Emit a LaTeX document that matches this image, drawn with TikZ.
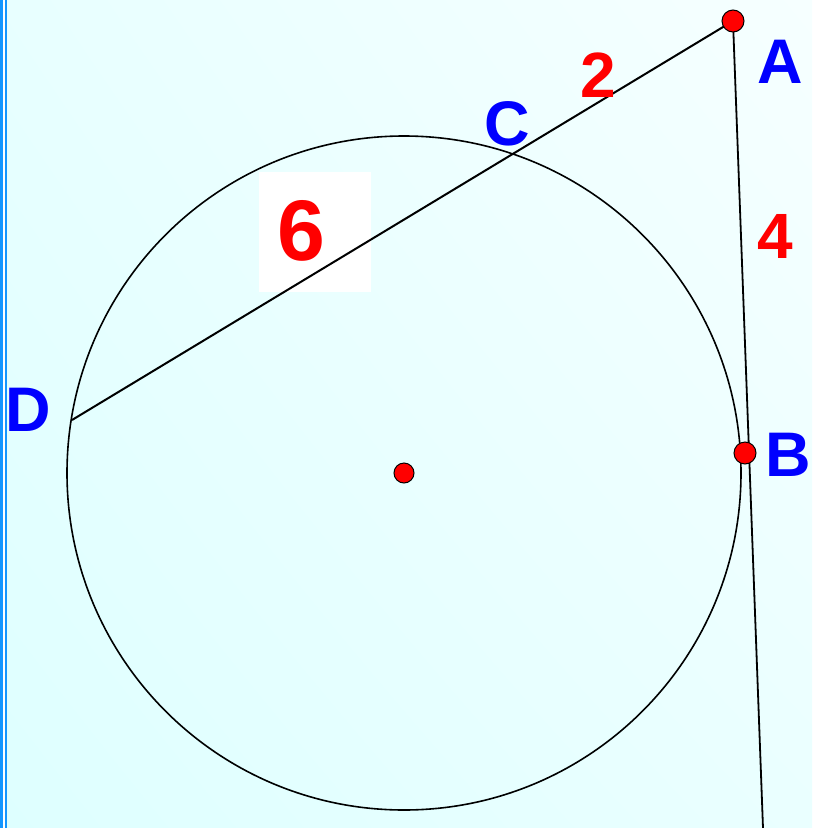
\documentclass[tikz,border=0pt]{standalone}
\usepackage{fontspec}
\setmainfont{Liberation Sans}
\usetikzlibrary{positioning,calc,shadings}
\definecolor{edgeblue}{RGB}{20,150,255}
\definecolor{bgleft}{RGB}{222,255,255}
\definecolor{bgright}{RGB}{246,255,255}
\tikzset{pt/.style={fill=red,draw=black,line width=1pt},
	lbl/.style={text=blue,font=\bfseries\fontsize{63}{63}\selectfont,inner sep=0pt},
	num/.style={text=red,font=\bfseries\fontsize{64}{64}\selectfont,inner sep=0pt}}

\begin{document}
\begin{tikzpicture}[x=1pt,y=-1pt]
	\def\rr{337pt}
	\useasboundingbox (0,0) rectangle (812,828);
	\shade[lower left=bgleft,lower right=bgleft!50!bgright,upper left=bgleft!60!bgright,upper right=bgright] (0,0) rectangle (812,828);
	\fill[edgeblue] (0,0) rectangle (3.2,828);
	\fill[white] (3.2,0) rectangle (4.8,828);
	\fill[edgeblue] (4.8,0) rectangle (7.4,828);
	% points
	\coordinate (O) at (404,473);
	\coordinate (A) at (733,21);
	\coordinate (B) at (745,453);
	\coordinate (E) at (763,828);
	\coordinate (C) at (517,155);
	\coordinate (D) at (72,420);
	\node[fill=white,minimum width=112pt,minimum height=120pt] (box) at (315,232) {};
	\draw[line width=1.6pt] (O) circle (\rr);
	\draw[line width=2pt] (A) -- (D);
	\draw[line width=1.8pt] (A) -- (E);
	\foreach \p in {A,B}
		\fill[pt] (\p) circle (11pt);
	\fill[pt] (O) circle (10pt);
	% labels
	\node[lbl] (la) at (780,62) {A};
	\node[lbl] (lb) at (788,455) {B};
	\node[lbl] (lc) at (507,124) {C};
	\node[lbl] (ld) at (28,410) {D};
	\node[num] (n2) at (598,75) {2};
	\node[num] (n4) at (775,236) {4};
	\node[num,font=\bfseries\fontsize{86}{86}\selectfont] (n6) at (301,231) {6};
\end{tikzpicture}
\end{document}
